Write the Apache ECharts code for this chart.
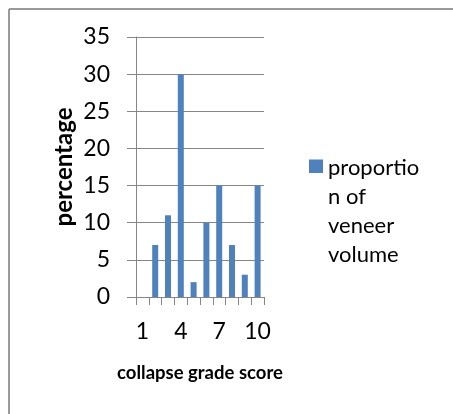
<!DOCTYPE html>
<html><head><meta charset="utf-8">
<script src="https://cdn.jsdelivr.net/npm/echarts@6/dist/echarts.min.js"></script>
<style>html,body{margin:0;padding:0;background:#fff}#c{width:453px;height:414px}</style>
</head><body><div id="c"></div>
<script>
const categories = ['1','2','3','4','5','6','7','8','9','10'];
const values = [0, 7, 11, 30, 2, 10, 15, 7, 3, 15];
const seriesName = 'proportion of veneer volume';
const legendLines = ['proportio', 'n of', 'veneer', 'volume'];
const yAxisName = 'percentage';
const xAxisName = 'collapse grade score';

const FONT = 'Lato';
const chart = echarts.init(document.getElementById('c'), null, {renderer: 'canvas'});
chart.setOption({
  animation: false,
  backgroundColor: '#fff',
  textStyle: {fontFamily: FONT},
  grid: {left: 136, right: 189, top: 37, bottom: 117, containLabel: false},
  legend: {
    left: 309, top: 153,
    padding: 0,
    itemWidth: 14, itemHeight: 116, itemGap: 0,
    icon: 'path://M0,0h0.01v0.01h-0.01z M0,6.5h14v13.5h-14z M0,116h0.01v-0.01h-0.01z',
    data: [seriesName],
    formatter: () => legendLines.join('\n'),
    textStyle: {fontFamily: FONT, fontSize: 22, color: '#000', lineHeight: 29}
  },
  xAxis: {
    type: 'category',
    data: categories,
    name: xAxisName,
    nameLocation: 'middle',
    nameGap: 67,
    nameTextStyle: {fontFamily: FONT, fontSize: 18.5, fontWeight: 'bold', color: '#000'},
    axisLine: {lineStyle: {color: '#868686', width: 1}},
    axisTick: {show: true, interval: 0, length: 8, lineStyle: {color: '#868686'}},
    axisLabel: {interval: 2, margin: 23, fontFamily: FONT, fontSize: 23, color: '#000'},
    splitLine: {show: false}
  },
  yAxis: {
    type: 'value',
    min: 0, max: 35, interval: 5,
    name: yAxisName,
    nameLocation: 'middle',
    nameGap: 60,
    nameTextStyle: {fontFamily: FONT, fontSize: 24, fontWeight: 'bold', color: '#000'},
    axisLine: {show: true, lineStyle: {color: '#868686', width: 1}},
    axisTick: {show: true, length: 9, lineStyle: {color: '#868686'}},
    axisLabel: {margin: 26, fontFamily: FONT, fontSize: 23, color: '#000'},
    splitLine: {show: true, lineStyle: {color: '#868686', width: 1}}
  },
  series: [{
    name: seriesName,
    type: 'bar',
    data: values,
    barWidth: 6,
    itemStyle: {color: '#4F81BD'}
  }],
  graphic: [
    {type: 'line', shape: {x1: 9, y1: 9, x2: 453, y2: 9}, style: {stroke: '#9a9a9a', lineWidth: 2}},
    {type: 'line', shape: {x1: 9, y1: 9, x2: 9, y2: 414}, style: {stroke: '#9a9a9a', lineWidth: 2}}
  ]
});
</script></body></html>
